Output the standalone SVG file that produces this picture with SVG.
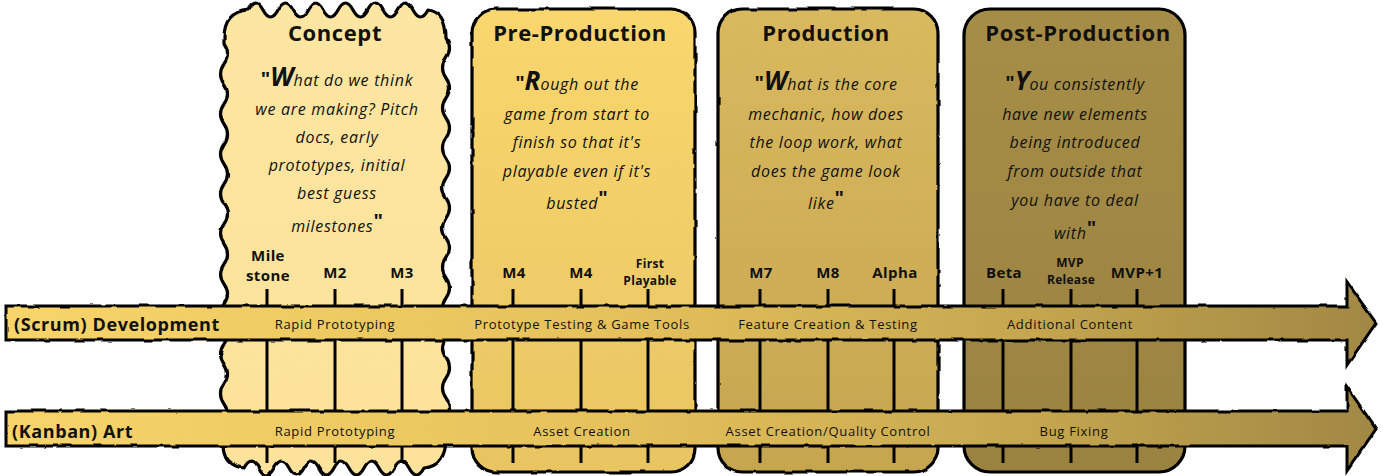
<svg xmlns="http://www.w3.org/2000/svg" width="1383" height="476" viewBox="0 0 1383 476">
<defs>
<linearGradient id="arrowGrad" gradientUnits="userSpaceOnUse" x1="0" y1="0" x2="1383" y2="0">
<stop offset="0" stop-color="#F8D56B"/>
<stop offset="0.45" stop-color="#E5C15B"/>
<stop offset="0.75" stop-color="#C4A64F"/>
<stop offset="1" stop-color="#A08743"/>
</linearGradient>
<linearGradient id="gConcept" x1="0" y1="0" x2="0" y2="1">
<stop offset="0" stop-color="#FDE6A2"/>
<stop offset="1" stop-color="#FCE29A"/>
</linearGradient>
<linearGradient id="gPre" x1="0" y1="0" x2="0" y2="1">
<stop offset="0" stop-color="#FAD66E"/>
<stop offset="1" stop-color="#E9C562"/>
</linearGradient>
<linearGradient id="gProd" x1="0" y1="0" x2="0" y2="1">
<stop offset="0" stop-color="#D9B95E"/>
<stop offset="1" stop-color="#C6A550"/>
</linearGradient>
<linearGradient id="gPost" x1="0" y1="0" x2="0" y2="1">
<stop offset="0" stop-color="#A68D47"/>
<stop offset="1" stop-color="#9A8240"/>
</linearGradient>
<filter id="rough" x="-5%" y="-5%" width="110%" height="110%">
<feTurbulence type="fractalNoise" baseFrequency="0.06" numOctaves="2" seed="3" result="n"/>
<feDisplacementMap in="SourceGraphic" in2="n" scale="3" xChannelSelector="R" yChannelSelector="G"/>
</filter>
</defs>
<style>
.box{stroke:#000;stroke-width:3.2;stroke-linejoin:round}
.arrow{fill:url(#arrowGrad);stroke:#000;stroke-width:3;stroke-linejoin:miter}
.ms{stroke:#000;stroke-width:3;fill:none}
text{font-family:"Open Sans","DejaVu Sans",sans-serif;fill:#111}
.title{font-size:22px;font-weight:bold;text-anchor:middle;letter-spacing:0.6px}
.quote{font-size:16px;font-style:italic;text-anchor:middle;letter-spacing:0.7px}
.big{font-size:26px;font-weight:bold;letter-spacing:0}
.q{font-size:20px;font-weight:bold;font-style:normal;letter-spacing:0}
.mlab{font-size:15px;font-weight:bold;text-anchor:middle;letter-spacing:0.4px}
.mlabs{font-size:12px;font-weight:bold;text-anchor:middle;letter-spacing:0.3px}
.track{font-size:18px;font-weight:bold;letter-spacing:0.6px}
.phase{font-size:13px;text-anchor:middle;letter-spacing:0.7px}
</style>

<g id="concept">
<path class="box" fill="url(#gConcept)" filter="url(#rough)" d="M 224 38 Q 224 12 248 10 Q 255.5 -4 263 10 T 278 10 T 293 10 T 308 10 T 323 10 T 338 10 T 353 10 T 368 10 T 383 10 T 398 10 T 413 10 T 428 10 Q 446 12 446 38 Q 453 48 446 58 T 446 78 T 446 98 T 446 118 T 446 138 T 446 158 T 446 178 T 446 198 T 446 218 T 446 238 T 446 258 T 446 278 T 446 298 T 446 318 T 446 338 T 446 358 T 446 378 T 446 398 T 446 418 T 446 438 Q 446 466 424 468 Q 416.5 482 409 468 T 394 468 T 379 468 T 364 468 T 349 468 T 334 468 T 319 468 T 304 468 T 289 468 T 274 468 T 259 468 T 244 468 Q 224 466 224 444 Q 217 434 224 424 T 224 404 T 224 384 T 224 364 T 224 344 T 224 324 T 224 304 T 224 284 T 224 264 T 224 244 T 224 224 T 224 204 T 224 184 T 224 164 T 224 144 T 224 124 T 224 104 T 224 84 T 224 64 T 224 44 L 224 38 Z"/>
<text class="title" x="335" y="41">Concept</text>
<text class="quote" x="337" y="86"><tspan class="q">"</tspan><tspan class="big">W</tspan>hat do we think</text>
<text class="quote" x="337" y="115">we are making? Pitch</text>
<text class="quote" x="337" y="143">docs, early</text>
<text class="quote" x="337" y="171">prototypes, initial</text>
<text class="quote" x="337" y="199">best guess</text>
<text class="quote" x="337" y="232">milestones<tspan class="q" dy="-4">"</tspan></text>
</g>

<g id="pre-production">
<rect class="box" fill="url(#gPre)" filter="url(#rough)" x="472" y="9" width="223" height="463" rx="24" ry="24"/>
<text class="title" x="580" y="41">Pre-Production</text>
<text class="quote" x="577" y="90"><tspan class="q">"</tspan><tspan class="big">R</tspan>ough out the</text>
<text class="quote" x="577" y="120">game from start to</text>
<text class="quote" x="577" y="148">finish so that it's</text>
<text class="quote" x="577" y="177">playable even if it's</text>
<text class="quote" x="577" y="209">busted<tspan class="q" dy="-4">"</tspan></text>
</g>

<g id="production">
<rect class="box" fill="url(#gProd)" filter="url(#rough)" x="718" y="9" width="220" height="463" rx="24" ry="24"/>
<text class="title" x="826" y="41">Production</text>
<text class="quote" x="826" y="90"><tspan class="q">"</tspan><tspan class="big">W</tspan>hat is the core</text>
<text class="quote" x="826" y="120">mechanic, how does</text>
<text class="quote" x="826" y="148">the loop work, what</text>
<text class="quote" x="826" y="177">does the game look</text>
<text class="quote" x="826" y="209">like<tspan class="q" dy="-4">"</tspan></text>
</g>

<g id="post-production">
<rect class="box" fill="url(#gPost)" x="964" y="9" width="221" height="463" rx="26" ry="26"/>
<text class="title" x="1078" y="41">Post-Production</text>
<text class="quote" x="1075" y="90"><tspan class="q">"</tspan><tspan class="big">Y</tspan>ou consistently</text>
<text class="quote" x="1075" y="120">have new elements</text>
<text class="quote" x="1075" y="148">being introduced</text>
<text class="quote" x="1075" y="177">from outside that</text>
<text class="quote" x="1075" y="206">you have to deal</text>
<text class="quote" x="1075" y="239">with<tspan class="q" dy="-4">"</tspan></text>
</g>

<g id="milestones">
<line class="ms" x1="267" y1="289" x2="267" y2="463"/>
<line class="ms" x1="335" y1="289" x2="335" y2="463"/>
<line class="ms" x1="402" y1="289" x2="402" y2="463"/>
<line class="ms" x1="513" y1="289" x2="513" y2="463"/>
<line class="ms" x1="581" y1="289" x2="581" y2="463"/>
<line class="ms" x1="648" y1="289" x2="648" y2="463"/>
<line class="ms" x1="760" y1="289" x2="760" y2="463"/>
<line class="ms" x1="828" y1="289" x2="828" y2="463"/>
<line class="ms" x1="894" y1="289" x2="894" y2="463"/>
<line class="ms" x1="1003" y1="289" x2="1003" y2="463"/>
<line class="ms" x1="1071" y1="289" x2="1071" y2="463"/>
<line class="ms" x1="1137" y1="289" x2="1137" y2="463"/>
<text class="mlab" x="268" y="261">Mile</text>
<text class="mlab" x="268" y="281">stone</text>
<text class="mlab" x="335" y="278">M2</text>
<text class="mlab" x="402" y="278">M3</text>
<text class="mlab" x="514" y="278">M4</text>
<text class="mlab" x="581" y="278">M4</text>
<text class="mlabs" x="650" y="268">First</text>
<text class="mlabs" x="650" y="285">Playable</text>
<text class="mlab" x="761" y="278">M7</text>
<text class="mlab" x="828" y="278">M8</text>
<text class="mlab" x="895" y="278">Alpha</text>
<text class="mlab" x="1004" y="278">Beta</text>
<text class="mlabs" x="1070" y="267">MVP</text>
<text class="mlabs" x="1071" y="284">Release</text>
<text class="mlab" x="1137" y="278">MVP+1</text>
</g>

<g id="connectors">
<path class="arrow" filter="url(#rough)" d="M 6 306 L 1347 306 L 1347 282 L 1376 323 L 1347 365 L 1347 340 L 6 340 Z"/>
<path class="arrow" filter="url(#rough)" d="M 6 411 L 1347 411 L 1347 387 L 1376 429 L 1347 471 L 1347 446 L 6 446 Z"/>
</g>

<g id="track-labels">
<text class="track" x="14" y="331">(Scrum) Development</text>
<text class="track" x="12" y="438">(Kanban) Art</text>
<text class="phase" x="335" y="329">Rapid Prototyping</text>
<text class="phase" x="582" y="329">Prototype Testing &amp; Game Tools</text>
<text class="phase" x="828" y="329">Feature Creation &amp; Testing</text>
<text class="phase" x="1070" y="329">Additional Content</text>
<text class="phase" x="335" y="436">Rapid Prototyping</text>
<text class="phase" x="582" y="436">Asset Creation</text>
<text class="phase" x="828" y="436">Asset Creation/Quality Control</text>
<text class="phase" x="1074" y="436">Bug Fixing</text>
</g>
</svg>
